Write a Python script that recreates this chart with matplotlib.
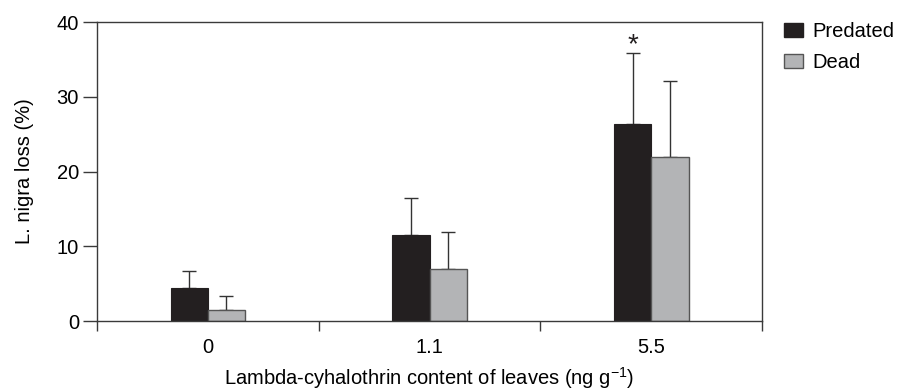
import matplotlib
matplotlib.use("Agg")
import matplotlib.pyplot as plt
import numpy as np
from matplotlib.patches import Patch

plt.rcParams['font.family'] = ['Liberation Sans', 'DejaVu Sans']
plt.rcParams['mathtext.fontset'] = 'custom'
plt.rcParams['mathtext.rm'] = 'Liberation Sans'
plt.rcParams['mathtext.it'] = 'Liberation Sans'
plt.rcParams['mathtext.default'] = 'regular'

categories = ["0", "1.1", "5.5"]
predated = [4.4, 11.5, 26.4]
predated_err = [2.3, 5.0, 9.4]
dead = [1.5, 7.0, 22.0]
dead_err = [1.9, 4.9, 10.1]
yticks = [0, 10, 20, 30, 40]

fs = 14.5
fig = plt.figure(figsize=(9, 3.91), dpi=100)
ax = fig.add_axes([0.1078, 0.179, 0.739, 0.7647])

x = np.arange(len(categories))
w = 0.168
spine_col = '#3a3a3a'
ax.bar(x - w/2, predated, w, color='#231f20', edgecolor='#231f20', linewidth=0.8, zorder=2)
ax.bar(x + w/2, dead, w, color='#b3b4b6', edgecolor='#555555', linewidth=1.0, zorder=2)
ax.errorbar(x - w/2, predated, yerr=[np.zeros(3), predated_err], fmt='none',
            ecolor='#333333', elinewidth=1.0, capsize=5, capthick=1.0, zorder=1)
ax.errorbar(x + w/2, dead, yerr=[np.zeros(3), dead_err], fmt='none',
            ecolor='#333333', elinewidth=1.0, capsize=5, capthick=1.0, zorder=1)
ax.text(x[2] - w/2, predated[2] + predated_err[2] + 0.15, '*', ha='center', va='baseline',
        fontsize=20, color='#231f20')

ax.set_xlim(-0.5, 2.5)
ax.set_ylim(0, 40)
ax.set_yticks(yticks)
ax.set_xticks(x)
ax.set_xticklabels(categories)
ax.set_xticks([-0.5, 0.5, 1.5, 2.5], minor=True)
ax.tick_params(axis='x', which='major', length=0, pad=12, labelsize=fs)
ax.tick_params(axis='x', which='minor', length=7, color=spine_col, width=1)
ax.tick_params(axis='y', length=10, color=spine_col, width=1, labelsize=fs, pad=3)
for s in ax.spines.values():
    s.set_color(spine_col)
    s.set_linewidth(1.0)

ax.set_ylabel('L. nigra loss (%)', fontsize=fs, labelpad=16)
ax.set_xlabel('Lambda-cyhalothrin content of leaves (ng g$^{-1}$)', fontsize=fs, labelpad=6)

handles = [Patch(facecolor='#231f20', edgecolor='#231f20', label='Predated'),
           Patch(facecolor='#b3b4b6', edgecolor='#555555', label='Dead')]
fig.legend(handles=handles, loc='upper left', bbox_to_anchor=(0.871, 0.944),
           frameon=False, fontsize=fs, handlelength=0.95, handleheight=0.7,
           handletextpad=0.45, labelspacing=0.62, borderaxespad=0, borderpad=0)

fig.savefig('out.png', dpi=100)
